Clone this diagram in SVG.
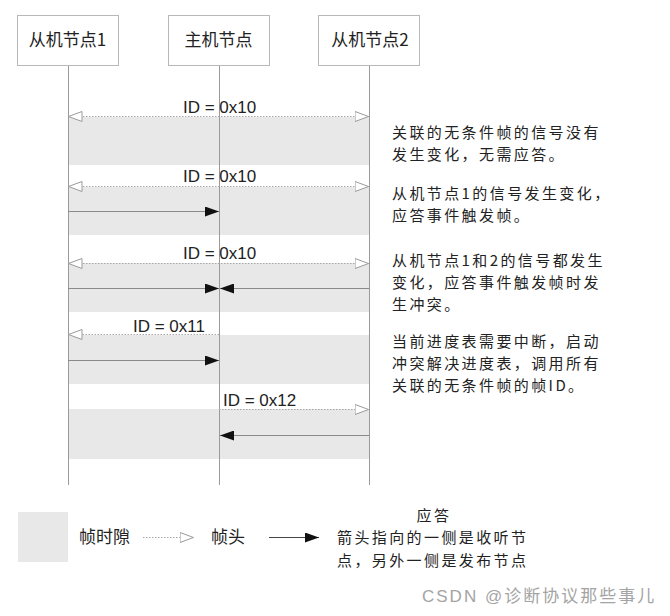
<svg xmlns="http://www.w3.org/2000/svg" width="670" height="616" viewBox="0 0 670 616">
<style>
.box{fill:#fff;stroke:#b8b8b8;stroke-width:1}
.life{stroke:#9a9a9a;stroke-width:1;fill:none}
.band{fill:#e8e8e8}
.dot{stroke:#a8a8a8;stroke-width:1;stroke-dasharray:1.5 1.5;fill:none}
.sol{stroke:#8a8a8a;stroke-width:1;fill:none}
.cjk{font-family:"Noto Sans CJK SC","Liberation Sans",sans-serif;font-size:17px;fill:#222}
.lat{font-family:"Liberation Sans",Arial,sans-serif;font-size:17px;fill:#222}
.note{font-size:15px;letter-spacing:2.4px}
.wm{font-family:"Liberation Sans","Noto Sans CJK SC",sans-serif;font-size:17px;fill:#a4a4a4;letter-spacing:2px}
</style>
<defs>
<marker id="openHead" viewBox="0 0 15 11" refX="14.5" refY="5.5" markerWidth="15" markerHeight="11" orient="auto-start-reverse" markerUnits="userSpaceOnUse">
<path d="M0.5,0.5 L14,5.5 L0.5,10.5 Z" fill="#fff" stroke="#9a9a9a" stroke-width="1"/>
</marker>
<marker id="solidHead" viewBox="0 0 14 10" refX="14" refY="5" markerWidth="14" markerHeight="10" orient="auto" markerUnits="userSpaceOnUse">
<path d="M0,0 L14,5 L0,10 Z" fill="#111"/>
</marker>
</defs>
<rect width="670" height="616" fill="#fff"/>

<g id="bands">
<rect class="band" x="68" y="117" width="301" height="48"/>
<rect class="band" x="68" y="187" width="301" height="48"/>
<rect class="band" x="68" y="263" width="301" height="49"/>
<rect class="band" x="68" y="335" width="301" height="49"/>
<rect class="band" x="68" y="409" width="301" height="50"/>
</g>

<g id="node-slave1">
<rect class="box" x="17.5" y="15.5" width="101" height="50"/>
<text class="cjk" x="67.5" y="46" text-anchor="middle">从机节点1</text>
</g>
<g id="node-master">
<rect class="box" x="168.5" y="15.5" width="101" height="50"/>
<text class="cjk" x="218.5" y="46" text-anchor="middle">主机节点</text>
</g>
<g id="node-slave2">
<rect class="box" x="318.5" y="15.5" width="101" height="50"/>
<text class="cjk" x="370" y="46" text-anchor="middle">从机节点2</text>
</g>

<g id="connectors">
<line class="life" x1="68.5" y1="66" x2="68.5" y2="485"/>
<line class="life" x1="219.5" y1="66" x2="219.5" y2="485"/>
<line class="life" x1="369.5" y1="66" x2="369.5" y2="485"/>

<line class="dot" x1="68" y1="116.5" x2="369" y2="116.5" marker-start="url(#openHead)" marker-end="url(#openHead)"/>
<line class="dot" x1="68" y1="186.5" x2="369" y2="186.5" marker-start="url(#openHead)" marker-end="url(#openHead)"/>
<line class="sol" x1="68" y1="211.5" x2="219" y2="211.5" marker-end="url(#solidHead)"/>
<line class="dot" x1="68" y1="263.5" x2="369" y2="263.5" marker-start="url(#openHead)" marker-end="url(#openHead)"/>
<line class="sol" x1="68" y1="288.5" x2="219" y2="288.5" marker-end="url(#solidHead)"/>
<line class="sol" x1="369" y1="288.5" x2="220" y2="288.5" marker-end="url(#solidHead)"/>
<line class="dot" x1="219" y1="334.5" x2="68" y2="334.5" marker-end="url(#openHead)"/>
<line class="sol" x1="68" y1="360.5" x2="219" y2="360.5" marker-end="url(#solidHead)"/>
<line class="dot" x1="219" y1="409.5" x2="369" y2="409.5" marker-end="url(#openHead)"/>
<line class="sol" x1="369" y1="435.5" x2="220" y2="435.5" marker-end="url(#solidHead)"/>

<text class="lat" x="183" y="113">ID = 0x10</text>
<text class="lat" x="183" y="182">ID = 0x10</text>
<text class="lat" x="183" y="259">ID = 0x10</text>
<text class="lat" x="133" y="332">ID = 0x11</text>
<text class="lat" x="223" y="406">ID = 0x12</text>
</g>

<g id="notes" class="cjk note">
<text x="392" y="138">关联的无条件帧的信号没有</text>
<text x="392" y="160">发生变化，无需应答。</text>
<text x="392" y="199">从机节点1的信号发生变化，</text>
<text x="392" y="221">应答事件触发帧。</text>
<text x="392" y="266">从机节点1和2的信号都发生</text>
<text x="392" y="288">变化，应答事件触发帧时发</text>
<text x="392" y="310">生冲突。</text>
<text x="392" y="347">当前进度表需要中断，启动</text>
<text x="392" y="369">冲突解决进度表，调用所有</text>
<text x="392" y="391">关联的无条件帧的帧ID。</text>
</g>

<g id="legend">
<rect class="band" x="18" y="512" width="50" height="50"/>
<text class="cjk" x="79" y="543">帧时隙</text>
<line class="dot" x1="143" y1="537.5" x2="194" y2="537.5" marker-end="url(#openHead)"/>
<text class="cjk" x="211" y="543">帧头</text>
<line x1="269" y1="537.5" x2="319" y2="537.5" stroke="#444" stroke-width="1" marker-end="url(#solidHead)"/>
<text class="cjk note" x="434" y="521" text-anchor="middle">应答</text>
<text class="cjk note" x="337" y="543">箭头指向的一侧是收听节</text>
<text class="cjk note" x="337" y="566">点，另外一侧是发布节点</text>
</g>

<text class="wm" x="422" y="602">CSDN @诊断协议那些事儿</text>
</svg>
